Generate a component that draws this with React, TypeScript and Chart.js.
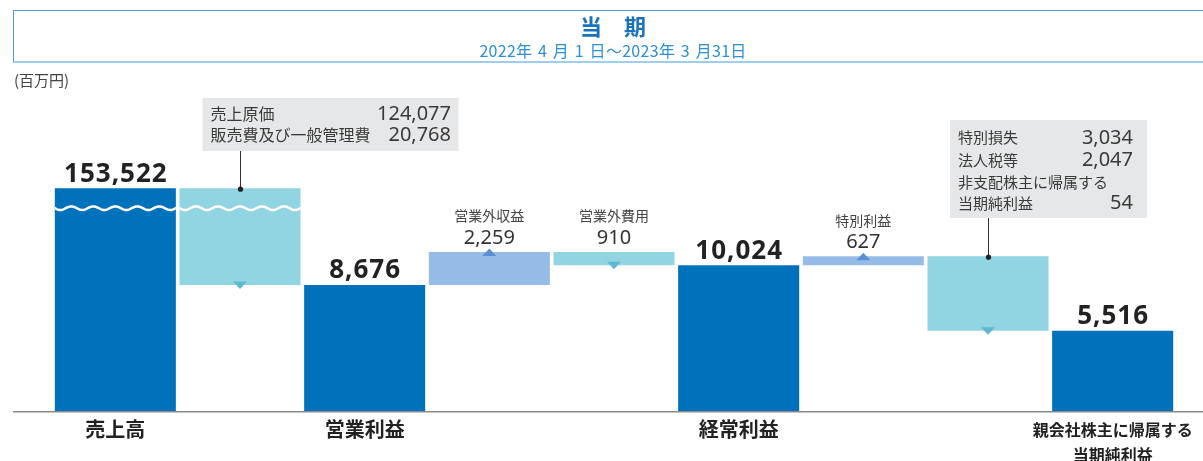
import React, { useEffect, useRef } from 'react';
import { Chart, registerables } from 'chart.js';

Chart.register(...registerables);

// ---- data ----
const categories = [
  '売上高',
  '売上原価・販管費',
  '営業利益',
  '営業外収益',
  '営業外費用',
  '経常利益',
  '特別利益',
  '特別損失等',
  '親会社株主に帰属する当期純利益',
];
const axisLabels: (string | string[])[] = [
  '売上高',
  '',
  '営業利益',
  '',
  '',
  '経常利益',
  '',
  '',
  ['親会社株主に帰属する', '当期純利益'],
];
const barStart = [0, 8676, 0, 8676, 10024, 0, 10024, 5516, 0];
const barEnd = [153522, 153522, 8676, 10935, 10935, 10024, 10651, 10651, 5516];
const barValues = [153522, 144845, 8676, 2259, 910, 10024, 627, 5135, 5516];
const totalIdx = [0, 2, 5, 8];
const smallLabelIdx = [3, 4, 6];
const markers = ['', 'down', '', 'up', 'down', '', 'up', 'down', ''];
// axis break: bars taller than this are cut (wavy line)
const breakCap = 15330;
const yMax = 21400;

const costNames = ['売上原価', '販売費及び一般管理費'];
const costValues = ['124,077', '20,768'];
const specialNames = ['特別損失', '法人税等', '非支配株主に帰属する', '当期純利益'];
const specialValues = ['3,034', '2,047', '', '54'];

const titleText = '当　期';
const periodText = '2022年\u20044\u2004月\u20041\u2004日～2023年\u20043\u2004月31日';
const unitText = '(百万円)';

// ---- styles ----
const DARK = '#0071bb';
const CYAN = '#92d5e2';
const LBLUE = '#94bce6';
const barColors = [DARK, CYAN, DARK, LBLUE, CYAN, DARK, LBLUE, CYAN, DARK];
const JP = '"Noto Sans CJK JP", "Noto Sans", sans-serif';
const NUM = '"Noto Sans", "Noto Sans CJK JP", sans-serif';

const fmt = (v: number) => v.toLocaleString('en-US');

const decorPlugin = {
  id: 'waterfallDecor',
  afterDatasetsDraw(chart: any) {
    const ctx: CanvasRenderingContext2D = chart.ctx;
    const meta = chart.getDatasetMeta(0);
    const bars = meta.data.map((el: any) => {
      const p = el.getProps(['x', 'y', 'base', 'width'], true);
      return {
        x: p.x,
        top: Math.min(p.y, p.base),
        bottom: Math.max(p.y, p.base),
        left: p.x - p.width / 2,
        right: p.x + p.width / 2,
      };
    });
    const y0 = chart.scales.y.getPixelForValue(0);

    ctx.save();
    // baseline
    ctx.strokeStyle = '#8a8a8a';
    ctx.lineWidth = 1.5;
    ctx.beginPath();
    ctx.moveTo(13, y0 + 0.75);
    ctx.lineTo(1203, y0 + 0.75);
    ctx.stroke();

    // wavy break lines on the truncated bars
    [0, 1].forEach((i) => {
      const b = bars[i];
      const wy = b.top + 20;
      ctx.save();
      ctx.beginPath();
      ctx.rect(b.left, b.top, b.right - b.left, b.bottom - b.top);
      ctx.clip();
      ctx.strokeStyle = '#ffffff';
      ctx.lineWidth = 2.5;
      ctx.beginPath();
      for (let x = b.left - 2; x <= b.right + 2; x += 0.5) {
        const yy = wy + 1.8 * Math.sin(((x - b.left) / 22) * Math.PI * 2);
        if (x === b.left - 2) ctx.moveTo(x, yy);
        else ctx.lineTo(x, yy);
      }
      ctx.stroke();
      ctx.restore();
    });

    // triangles
    markers.forEach((m, i) => {
      if (!m) return;
      const b = bars[i];
      ctx.beginPath();
      if (m === 'down') {
        ctx.fillStyle = '#5cb9d1';
        ctx.moveTo(b.x - 7, b.bottom - 3.5);
        ctx.lineTo(b.x + 7, b.bottom - 3.5);
        ctx.lineTo(b.x, b.bottom + 4);
      } else {
        ctx.fillStyle = '#5b8fd2';
        ctx.moveTo(b.x - 7, b.top + 4);
        ctx.lineTo(b.x + 7, b.top + 4);
        ctx.lineTo(b.x, b.top - 3.5);
      }
      ctx.closePath();
      ctx.fill();
    });

    // big value labels
    ctx.fillStyle = '#222222';
    ctx.textAlign = 'center';
    ctx.textBaseline = 'alphabetic';
    ctx.font = `bold 26px ${NUM}`;
    (ctx as any).letterSpacing = '1px';
    totalIdx.forEach((i) => {
      const b = bars[i];
      ctx.fillText(fmt(barValues[i]), b.x + 0.5, b.top - 6.5);
    });
    (ctx as any).letterSpacing = '0px';

    // small labels
    smallLabelIdx.forEach((i) => {
      const b = bars[i];
      ctx.fillStyle = '#444444';
      ctx.font = `14px ${JP}`;
      ctx.textBaseline = 'middle';
      ctx.fillText(categories[i], b.x, b.top - 36);
      ctx.fillStyle = '#333333';
      ctx.font = `20px ${NUM}`;
      ctx.textBaseline = 'alphabetic';
      ctx.fillText(fmt(barValues[i]), b.x, b.top - 8);
    });

    // callouts
    const drawCallout = (
      b: any,
      dx: number,
      top: number,
      w: number,
      h: number,
      names: string[],
      values: string[],
      lineYs: number[],
      padL: number,
      padR: number,
      jpSize: number
    ) => {
      const left = b.x + dx;
      ctx.fillStyle = '#e6e7e8';
      ctx.fillRect(left, top, w, h);
      ctx.strokeStyle = '#333333';
      ctx.lineWidth = 1;
      ctx.beginPath();
      ctx.moveTo(Math.round(b.x) + 0.5, top + h);
      ctx.lineTo(Math.round(b.x) + 0.5, b.top + 1);
      ctx.stroke();
      ctx.fillStyle = '#222222';
      ctx.beginPath();
      ctx.arc(Math.round(b.x) + 0.5, b.top + 1, 2.6, 0, Math.PI * 2);
      ctx.fill();
      ctx.textBaseline = 'middle';
      names.forEach((n, k) => {
        ctx.fillStyle = '#3a3a3a';
        ctx.textAlign = 'left';
        ctx.font = `${jpSize}px ${JP}`;
        ctx.fillText(n, left + padL, top + lineYs[k]);
        if (values[k]) {
          ctx.textAlign = 'right';
          ctx.font = `20px ${NUM}`;
          ctx.fillText(values[k], left + w - padR, top + lineYs[k] + 0.5);
        }
      });
    };
    drawCallout(bars[1], -37.5, 98, 256, 53, costNames, costValues, [15.5, 37], 8, 7.5, 16);
    drawCallout(bars[7], -38, 120, 197, 98, specialNames, specialValues, [17.5, 40, 62, 83], 8, 14, 15);

    ctx.restore();
  },
};

export default function App() {
  const canvasRef = useRef<HTMLCanvasElement | null>(null);

  useEffect(() => {
    if (!canvasRef.current) return;
    const chart = new Chart(canvasRef.current, {
      type: 'bar',
      data: {
        labels: categories,
        datasets: [
          {
            data: barStart.map((s, i) => [s, Math.min(barEnd[i], breakCap)]) as any,
            backgroundColor: barColors,
            borderWidth: 0,
            barPercentage: 0.971,
            categoryPercentage: 1,
          },
        ],
      },
      options: {
        responsive: false,
        animation: false,
        events: [],
        layout: { padding: { left: 53, right: 28, top: 100, bottom: 0 } },
        plugins: {
          legend: { display: false },
          tooltip: { enabled: false },
          title: { display: false },
        },
        scales: {
          x: {
            grid: { display: false, drawTicks: false },
            border: { display: false },
            afterFit: (scale: any) => {
              scale.height = 50;
            },
            ticks: {
              autoSkip: false,
              maxRotation: 0,
              minRotation: 0,
              padding: 6,
              color: '#222222',
              callback: (_v: any, i: number) => axisLabels[i],
              font: (c: any) =>
                c.index === 8
                  ? { family: JP, size: 16, weight: 'bold', lineHeight: 1.5625 }
                  : { family: JP, size: 20, weight: 'bold', lineHeight: 1.2 },
            },
          },
          y: {
            display: false,
            min: 0,
            max: yMax,
          },
        },
      },
      plugins: [decorPlugin],
    });
    return () => chart.destroy();
  }, []);

  return (
    <div
      style={{
        position: 'fixed',
        left: 0,
        top: 0,
        width: 1203,
        height: 461,
        background: '#ffffff',
        overflow: 'hidden',
      }}
    >
      <canvas
        ref={canvasRef}
        width={1203}
        height={461}
        style={{ position: 'absolute', left: 0, top: 0, width: 1203, height: 461 }}
      />
      <div
        style={{
          position: 'absolute',
          left: 13,
          top: 10,
          width: 1200,
          height: 53,
          boxSizing: 'border-box',
          borderTop: '1px solid #4a9fd8',
          borderLeft: '1px solid #4a9fd8',
          borderBottom: '2px solid #9fcdee',
        }}
      />
      <div
        style={{
          position: 'absolute',
          left: 13,
          top: 12,
          width: 1200,
          textAlign: 'center',
          fontFamily: JP,
          fontWeight: 'bold',
          fontSize: 22,
          lineHeight: '26px',
          color: '#1a72bb',
        }}
      >
        {titleText}
      </div>
      <div
        style={{
          position: 'absolute',
          left: 13,
          top: 41,
          width: 1200,
          textAlign: 'center',
          fontFamily: JP,
          fontSize: 16,
          lineHeight: '18px',
          letterSpacing: '0.3px',
          color: '#2e8fd4',
        }}
      >
        {periodText}
      </div>
      <div
        style={{
          position: 'absolute',
          left: 14,
          top: 71,
          fontFamily: JP,
          fontSize: 15,
          lineHeight: '18px',
          color: '#444444',
        }}
      >
        {unitText}
      </div>
    </div>
  );
}
